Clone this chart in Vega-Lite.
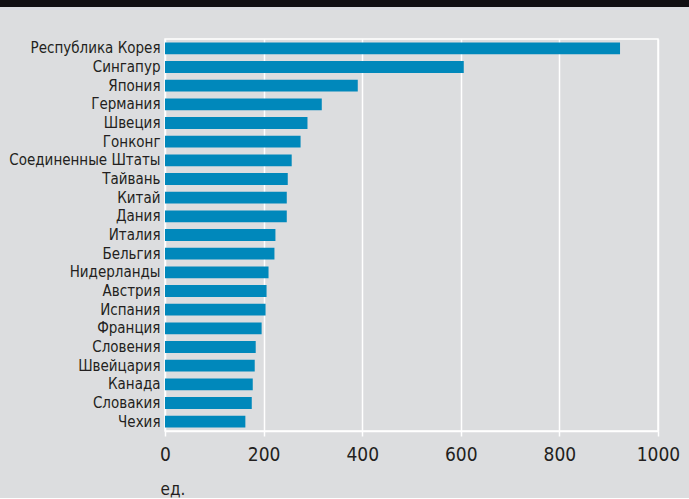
{
  "$schema": "https://vega.github.io/schema/vega-lite/v6.json",
  "background": "#dcdddf",
  "padding": 0,
  "spacing": 31,
  "bounds": "full",
  "config": {
    "font": "DejaVu Sans Condensed, Roboto, sans-serif"
  },
  "vconcat": [
    {
      "width": 525,
      "height": 7,
      "view": {"stroke": null},
      "data": {"values": [{"k": 1}]},
      "mark": {"type": "rect", "color": "#121012"},
      "encoding": {
        "x": {"datum": -165, "type": "quantitative", "scale": {"domain": [0, 525], "nice": false, "zero": false}, "axis": null},
        "x2": {"datum": 525}
      }
    },
    {
      "width": 493,
      "height": 392,
      "view": {"stroke": "#ffffff", "strokeWidth": 1.5},
      "data": {
        "values": [
          {"country": "Республика Корея", "value": 923},
          {"country": "Сингапур", "value": 606},
          {"country": "Япония", "value": 391},
          {"country": "Германия", "value": 318},
          {"country": "Швеция", "value": 289},
          {"country": "Гонконг", "value": 275},
          {"country": "Соединенные Штаты", "value": 257},
          {"country": "Тайвань", "value": 249},
          {"country": "Китай", "value": 247},
          {"country": "Дания", "value": 247},
          {"country": "Италия", "value": 224},
          {"country": "Бельгия", "value": 222},
          {"country": "Нидерланды", "value": 210},
          {"country": "Австрия", "value": 206},
          {"country": "Испания", "value": 204},
          {"country": "Франция", "value": 196},
          {"country": "Словения", "value": 184},
          {"country": "Швейцария", "value": 182},
          {"country": "Канада", "value": 178},
          {"country": "Словакия", "value": 176},
          {"country": "Чехия", "value": 163}
        ]
      },
      "mark": {"type": "bar", "color": "#0088bb"},
      "encoding": {
        "y": {
          "field": "country",
          "type": "nominal",
          "sort": null,
          "scale": {"paddingInner": 0.37, "paddingOuter": 0.185},
          "axis": {
            "title": null,
            "domain": false,
            "ticks": false,
            "labelPadding": 5,
            "labelFontSize": 15,
            "labelColor": "#231f20",
            "labelLimit": 300,
            "minExtent": 164,
            "maxExtent": 164
          }
        },
        "x": {
          "field": "value",
          "type": "quantitative",
          "scale": {"domain": [0, 1000], "nice": false},
          "axis": {
            "title": "ед.",
            "values": [0, 200, 400, 600, 800, 1000],
            "format": "d",
            "labelFlush": false,
            "grid": true,
            "gridColor": "#ffffff",
            "gridWidth": 1.5,
            "gridOpacity": 1,
            "domainColor": "#ffffff",
            "domainWidth": 1.5,
            "tickColor": "#ffffff",
            "tickWidth": 1.5,
            "tickSize": 5,
            "labelPadding": 9,
            "labelFontSize": 19,
            "labelColor": "#231f20",
            "titleFontSize": 17,
            "titleFontWeight": "normal",
            "titleColor": "#231f20",
            "titleAnchor": "start",
            "titleAlign": "left",
            "titleBaseline": "alphabetic",
            "titleX": -5,
            "titleY": 63
          }
        }
      }
    }
  ]
}
